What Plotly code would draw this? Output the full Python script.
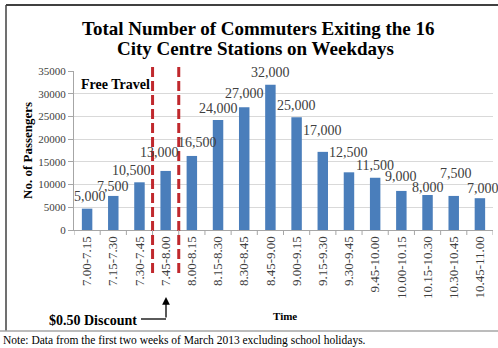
import plotly.graph_objects as go

W, H = 498, 348

categories = ["7.00-7.15", "7.15-7.30", "7.30-7.45", "7.45-8.00", "8.00-8.15", "8.15-8.30",
              "8.30-8.45", "8.45-9.00", "9.00-9.15", "9.15-9.30", "9.30-9.45", "9.45-10.00",
              "10.00-10.15", "10.15-10.30", "10.30-10.45", "10.45-11.00"]
values = [4700, 7500, 10500, 13000, 16300, 24200, 27000, 32000, 24800, 17200, 12700,
          11500, 8600, 7700, 7500, 7000]
labels = ["5,000", "7,500", "10,500", "13,000", "16,500", "24,000", "27,000", "32,000",
          "25,000", "17,000", "12,500", "11,500", "9,000", "8,000", "7,500", "7,000"]
y_ticks = [0, 5000, 10000, 15000, 20000, 25000, 30000, 35000]

# label placement tweaks (pixels)
lab_dy = [12, 9, 12, 18, 13, 12, 14, 12, 12, 21, 20, 12, 14, 8, 22, 10]
lab_dx = [3, 0, -8, -6, 6, 0, 0, 0, 0, 0, 0, 0, 0, 0, 2, 3]

SERIF = "Liberation Serif, Times New Roman, serif"

def px(x):
    return x / W

def py(y):
    return 1 - y / H

X0, X1 = 74, 493
Y0, Y1 = 230, 71

fig = go.Figure()
fig.add_trace(go.Bar(x=list(range(len(categories))), y=values,
                     marker=dict(color="#4A7EBB", line=dict(width=0)),
                     width=0.4, hoverinfo="skip"))

ann = []
for i, (v, t) in enumerate(zip(values, labels)):
    ann.append(dict(x=i, y=v, xref="x", yref="y", text=t, showarrow=False,
                    yanchor="middle", xanchor="center", yshift=lab_dy[i], xshift=lab_dx[i],
                    font=dict(family=SERIF, size=14, color="#404040")))

ann += [
    dict(x=px(258), y=py(28), xref="paper", yref="paper", showarrow=False,
         text="<b>Total Number of Commuters Exiting the 16</b>",
         font=dict(family=SERIF, size=19, color="#000000"), xanchor="center", yanchor="middle"),
    dict(x=px(256), y=py(49), xref="paper", yref="paper", showarrow=False,
         text="<b>City Centre Stations on Weekdays</b>",
         font=dict(family=SERIF, size=19, color="#000000"), xanchor="center", yanchor="middle"),
    dict(x=px(27), y=py(151), xref="paper", yref="paper", showarrow=False, textangle=-90,
         text="<b>No. of Passengers</b>",
         font=dict(family=SERIF, size=13, color="#000000"), xanchor="center", yanchor="middle"),
    dict(x=px(285), y=py(316), xref="paper", yref="paper", showarrow=False,
         text="<b>Time</b>",
         font=dict(family=SERIF, size=11, color="#000000"), xanchor="center", yanchor="middle"),
    dict(x=px(79), y=py(84), xref="paper", yref="paper", showarrow=False,
         text="<b>Free Travel</b>",
         font=dict(family=SERIF, size=14, color="#000000"), xanchor="left", yanchor="middle"),
    dict(x=px(47), y=py(320), xref="paper", yref="paper", showarrow=False,
         text="<b>$0.50 Discount</b>",
         font=dict(family=SERIF, size=14, color="#000000"), xanchor="left", yanchor="middle"),
    dict(x=px(1), y=py(340), xref="paper", yref="paper", showarrow=False,
         text="Note: Data from the first two weeks of March 2013 excluding school holidays.",
         font=dict(family=SERIF, size=11.5, color="#000000"), xanchor="left", yanchor="middle"),
    dict(x=px(166), y=py(297), xref="paper", yref="paper", showarrow=True, text="",
         ax=0, ay=22, arrowhead=2, arrowsize=1.2, arrowwidth=1.3, arrowcolor="#000000"),
]

shapes = [
    # dashed markers between periods
    dict(type="line", xref="x", yref="paper", x0=2.5, x1=2.5, y0=py(273), y1=py(63),
         line=dict(color="#C0282D", width=3, dash="10px,4px")),
    dict(type="line", xref="x", yref="paper", x0=3.5, x1=3.5, y0=py(273), y1=py(63),
         line=dict(color="#C0282D", width=3, dash="10px,4px")),
    # arrow connector
    dict(type="line", xref="paper", yref="paper", x0=px(141), x1=px(166), y0=py(319), y1=py(319),
         line=dict(color="#000000", width=1.3)),
    # frame
    dict(type="line", xref="paper", yref="paper", x0=px(6), x1=px(498), y0=py(5), y1=py(5),
         line=dict(color="#404040", width=2)),
    dict(type="line", xref="paper", yref="paper", x0=px(6), x1=px(6), y0=py(5), y1=py(331),
         line=dict(color="#404040", width=1.5)),
    dict(type="line", xref="paper", yref="paper", x0=px(0), x1=px(498), y0=py(331), y1=py(331),
         line=dict(color="#A6A6A6", width=1.5)),
]

fig.update_layout(
    width=W, height=H,
    margin=dict(l=0, r=0, t=0, b=0),
    paper_bgcolor="white", plot_bgcolor="white",
    showlegend=False,
    bargap=0.6,
    annotations=ann,
    shapes=shapes,
    xaxis=dict(domain=[px(X0), px(X1)], range=[-0.5, len(categories) - 0.5],
               tickmode="array", tickvals=list(range(len(categories))), ticktext=categories,
               tickangle=-90, tickfont=dict(family=SERIF, size=13, color="#404040"),
               showgrid=False, showline=True, linecolor="#A6A6A6", linewidth=1,
               ticks="", zeroline=False, automargin=False),
    yaxis=dict(domain=[py(Y0), py(Y1)], range=[0, 35000],
               tickmode="array", tickvals=y_ticks, ticktext=[str(t) for t in y_ticks],
               tickfont=dict(family=SERIF, size=11, color="#404040"),
               showgrid=True, gridcolor="#D9D9D9", gridwidth=1,
               showline=True, linecolor="#A6A6A6", linewidth=1,
               ticks="outside", ticklen=5, tickcolor="#A6A6A6", zeroline=False,
               automargin=False),
)

# x-axis category boundary ticks
for b in range(len(categories) + 1):
    fig.add_shape(type="line", xref="x", yref="paper", x0=b - 0.5, x1=b - 0.5,
                  y0=py(Y0), y1=py(Y0 + 5), line=dict(color="#A6A6A6", width=1))

fig.write_html("out.html")
